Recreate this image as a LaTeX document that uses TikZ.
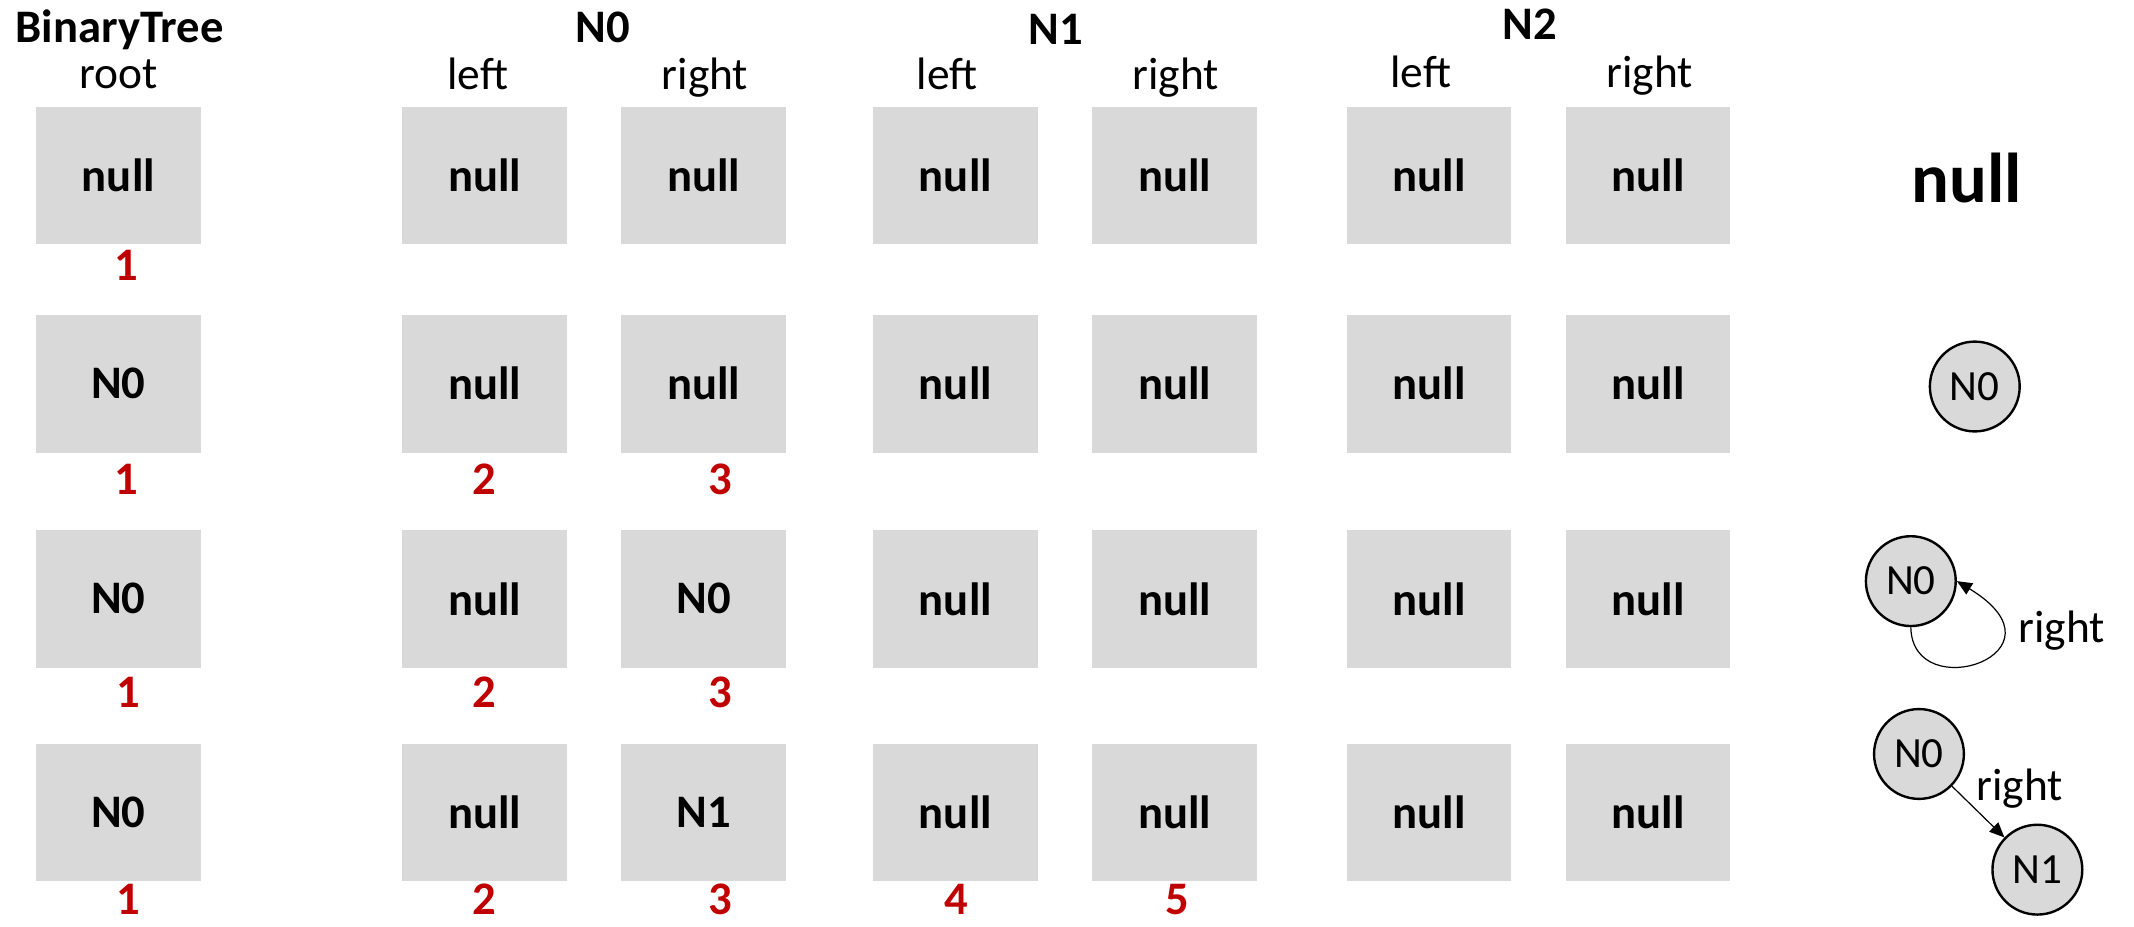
\documentclass[tikz,border=0pt]{standalone}
\usepackage{fontspec}
\setmainfont{Carlito}
\usetikzlibrary{arrows.meta}
\definecolor{cellgray}{RGB}{217,217,217}
\definecolor{idxred}{RGB}{192,0,0}
\tikzset{
  >={Triangle[length=2.2mm,width=1.9mm]},
  cell/.style={fill=cellgray,minimum width=24.2mm,minimum height=20.2mm,inner sep=0pt,
    font=\fontsize{19.5}{23}\selectfont\bfseries},
  hdr/.style={anchor=base,font=\fontsize{19.5}{23}\selectfont\bfseries},
  field/.style={anchor=base,font=\fontsize{19}{23}\selectfont},
  idx/.style={anchor=base,inner sep=0pt,text=idxred,font=\fontsize{19.5}{23}\selectfont\bfseries},
  obj/.style={circle,draw,line width=1pt,fill=cellgray,minimum size=13.2mm,inner sep=0pt,
    font=\fontsize{18}{22}\selectfont},
  edge/.style={->,line width=0.5pt},
}
\begin{document}
\begin{tikzpicture}[x=0.2mm,y=-0.2mm]
  \useasboundingbox (0,0) rectangle (1568,681);
  % headers
  \node[hdr] (bt) at (88,31) {BinaryTree}; \node[field] (root) at (87,65) {root};
  \node[hdr] (h0) at (443,31) {N0}; \node[field] (l0) at (351,66) {left}; \node[field] (rt0) at (518,66) {right};
  \node[hdr] (h1) at (776,33) {N1}; \node[field] (l1) at (696,66) {left}; \node[field] (rt1) at (864,66) {right};
  \node[hdr] (h2) at (1124,29) {N2}; \node[field] (l2) at (1044,64) {left}; \node[field] (rt2) at (1212,64) {right};
  % cells, one row per step
  \foreach \r/\y in {1/129,2/282,3/440,4/597}{
    \node[cell] (n0l\r) at (356,\y) {null};
    \node[cell] (n1l\r) at (702,\y) {null}; \node[cell] (n1r\r) at (863,\y) {null};
    \node[cell] (n2l\r) at (1050,\y) {null}; \node[cell] (n2r\r) at (1211,\y) {null};
  }
  \node[cell] (root1) at (87,129) {null}; \node[cell] (n0r1) at (517,129) {null};
  \node[cell] (root2) at (87,282) {N0}; \node[cell] (n0r2) at (517,282) {null};
  \node[cell] (root3) at (87,440) {N0}; \node[cell] (n0r3) at (517,440) {N0};
  \node[cell] (root4) at (87,597) {N0}; \node[cell] (n0r4) at (517,597) {N1};
  % step numbers
  \node[idx] (k1a) at (93,206) {1};
  \node[idx] (k2a) at (93,363) {1}; \node[idx] (k2b) at (356,363) {2}; \node[idx] (k2c) at (529,363) {3};
  \node[idx] (k3a) at (94,520) {1}; \node[idx] (k3b) at (356,520) {2}; \node[idx] (k3c) at (529,520) {3};
  \node[idx] (k4a) at (94,672) {1}; \node[idx] (k4b) at (356,672) {2}; \node[idx] (k4c) at (529,672) {3};
  \node[idx] (k4d) at (703,672) {4}; \node[idx] (k4e) at (865,672) {5};
  % the objects
  \node[anchor=base,font=\fontsize{29.5}{34}\selectfont\bfseries] (nul) at (1445,149) {null};
  \node[obj] (a2) at (1451,284) {N0};
  \node[obj] (a3) at (1404,427) {N0};
  \draw[edge] (a3.south) .. controls (1405,520) and (1525,480) .. (a3.east);
  \node[field] (lab3) at (1515,472) {right};
  \node[obj] (a4) at (1410,554) {N0}; \node[obj] (b4) at (1497,639) {N1};
  \draw[edge] (a4) -- (b4);
  \node[field] (lab4) at (1484,588) {right};
\end{tikzpicture}
\end{document}
